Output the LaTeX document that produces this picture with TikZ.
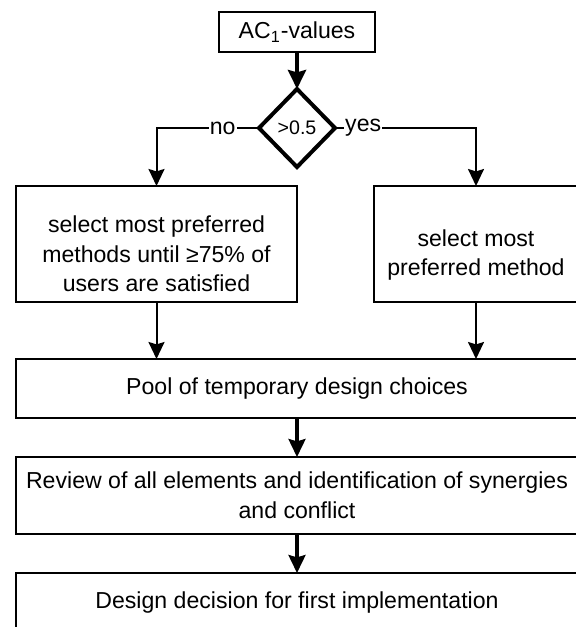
\documentclass[tikz,border=0pt]{standalone}
\usepackage{fontspec}
\setmainfont{Liberation Sans}
\usetikzlibrary{arrows.meta,shapes.geometric}
\begin{document}
\begin{tikzpicture}[x=0.5pt,y=-0.5pt,
  every node/.style={font=\fontsize{11.55pt}{14.8pt}\selectfont},
  box/.style={draw, rectangle, line width=1pt, align=center, inner sep=0pt, outer sep=0pt},
  txt/.style={align=center, inner sep=0pt},
  decision/.style={draw, diamond, line width=2pt, inner sep=0pt, outer sep=0pt,
    minimum width=38pt, minimum height=39pt, font=\fontsize{9.8pt}{12pt}\selectfont},
  lab/.style={fill=white, inner sep=0.6pt},
  arr/.style={line width=1pt, -{Stealth[length=8.5pt,width=8pt,inset=1.2pt]}},
  medarr/.style={line width=1.6pt, -{Stealth[length=9pt,width=8.5pt,inset=1.2pt]}},
  thickarr/.style={line width=2pt, -{Stealth[length=9.5pt,width=9pt,inset=1.2pt]}}
]
\useasboundingbox (0,0) rectangle (576,627);
\clip (0,0) rectangle (576,627);

\node[box, minimum width=78pt, minimum height=20pt] (ac) at (297,32) {AC\textsubscript{1}-values};
\node[decision] (dia) at (297,128) {>0.5};
\node[box, minimum width=140.5pt, minimum height=58pt] (left) at (156.5,244) {};
\node[txt] (lefttext) at ([yshift=-5pt]left.center)
  {select most preferred\\methods until ≥75\% of\\users are satisfied};
\node[box, minimum width=102pt, minimum height=58pt] (right) at (476,244) {};
\node[txt] (righttext) at ([yshift=-5.5pt]right.center)
  {select most\\preferred method};
\node[box, minimum width=281pt, minimum height=29.5pt] (pool) at (297,388.5)
  {Pool of temporary design choices};
\node[box, minimum width=281pt, minimum height=38.5pt] (review) at (297,495.5)
  {Review of all elements and identification of synergies\\and conflict};
\node[box, minimum width=281pt, minimum height=29.5pt] (design) at (297,602.5)
  {Design decision for first implementation};

\coordinate (nc) at (left.north |- dia.west);
\coordinate (yc) at (right.north |- dia.east);

\draw[thickarr] (ac.south) -- (dia.north);
\draw[arr] (dia.west) -- node[lab, pos=0.355] (no) {no} (nc) -- (left.north);
\draw[arr] (dia.east) -- node[lab, pos=0.2] (yes) {yes} (yc) -- (right.north);
\draw[arr] (left.south) -- (left.south |- pool.north);
\draw[arr] (right.south) -- (right.south |- pool.north);
\draw[medarr] (pool.south) -- (review.north);
\draw[medarr] (review.south) -- (design.north);
\end{tikzpicture}
\end{document}
